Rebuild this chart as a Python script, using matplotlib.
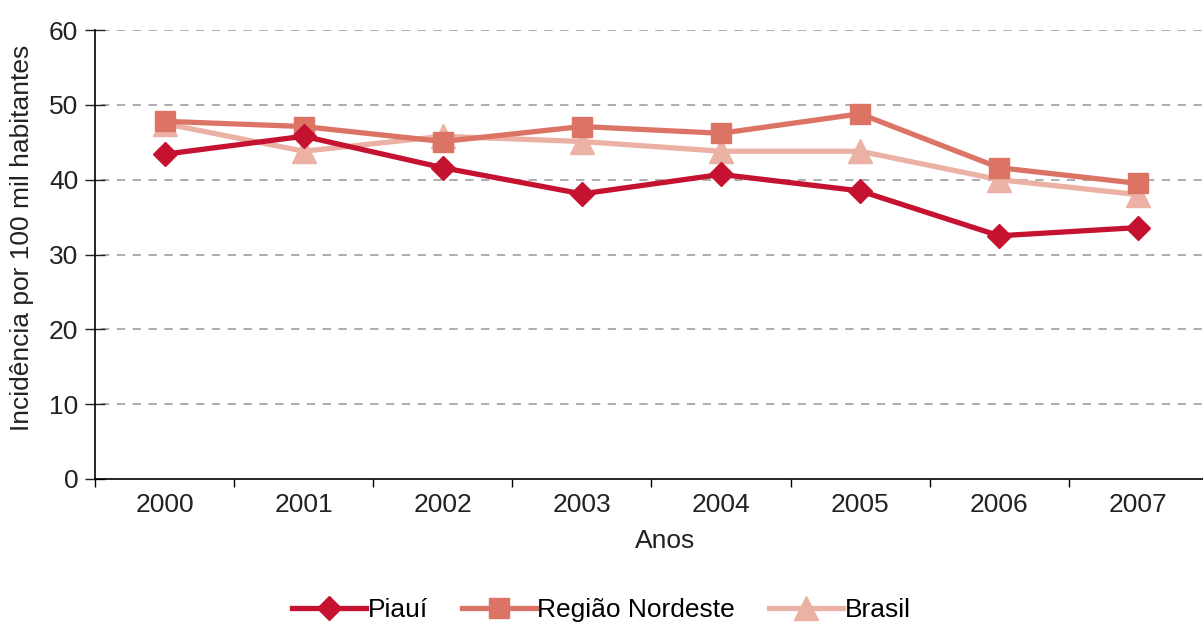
import matplotlib.pyplot as plt
import numpy as np

plt.rcParams['font.family'] = ['Liberation Sans', 'DejaVu Sans']

# data
anos = ['2000', '2001', '2002', '2003', '2004', '2005', '2006', '2007']
piaui = [43.4, 45.8, 41.6, 38.1, 40.7, 38.5, 32.5, 33.6]
nordeste = [47.8, 47.1, 45.1, 47.1, 46.2, 48.8, 41.6, 39.5]
brasil = [47.5, 43.8, 45.8, 45.1, 43.8, 43.8, 40.0, 38.0]
yticks = [0, 10, 20, 30, 40, 50, 60]

fs = 19
fig = plt.figure(figsize=(12.03, 6.25), dpi=100)
ax = fig.add_axes([0.079, 0.2336, 0.925, 0.7184])

x = np.arange(len(anos))
# dashed grid, a bit off the axis like the original
for v in yticks[1:]:
  ax.plot([-0.46, len(anos) - 0.5], [v, v], color='#a0a0a0', lw=1.2, ls=(0, (5, 4.5)), zorder=1)

ax.plot(x, brasil, color='#ebb1a5', lw=3.8, marker='^', ms=17, label='Brasil', zorder=3)
ax.plot(x, nordeste, color='#dc7466', lw=3.8, marker='s', ms=14, label='Região Nordeste', zorder=4)
ax.plot(x, piaui, color='#c41230', lw=3.8, marker='D', ms=12, label='Piauí', zorder=5)

ax.set_xlim(-0.5, len(anos) - 0.5)
ax.set_ylim(0, 60)
ax.set_yticks(yticks)
ax.set_xticks(x)
ax.set_xticklabels(anos)
ax.set_xticks(np.arange(len(anos) + 1) - 0.5, minor=True)
ax.tick_params(axis='x', which='major', length=0, pad=10, labelsize=fs, colors='#222222')
ax.tick_params(axis='x', which='minor', length=6, direction='out', width=1)
ax.tick_params(axis='y', length=14, direction='inout', width=1, labelsize=fs, colors='#222222', pad=5)
for s in ['top', 'right']:
  ax.spines[s].set_visible(False)
for s in ['left', 'bottom']:
  ax.spines[s].set_linewidth(1.2)

ax.set_xlabel('Anos', fontsize=fs, color='#222222')
ax.set_ylabel('Incidência por 100 mil habitantes', fontsize=fs, color='#222222', va='center')
ax.xaxis.set_label_coords(0.512, -0.112)
ax.yaxis.set_label_coords(-0.066, 0.538)

h, l = ax.get_legend_handles_labels()
order = [2, 1, 0]
fig.legend([h[i] for i in order], [l[i] for i in order], loc='center', bbox_to_anchor=(0.5, 0.024),
           ncol=3, frameon=False, fontsize=fs, handlelength=2.8, handletextpad=0.05, columnspacing=1.3,
           borderpad=0)

plt.savefig('out.png', dpi=100)
